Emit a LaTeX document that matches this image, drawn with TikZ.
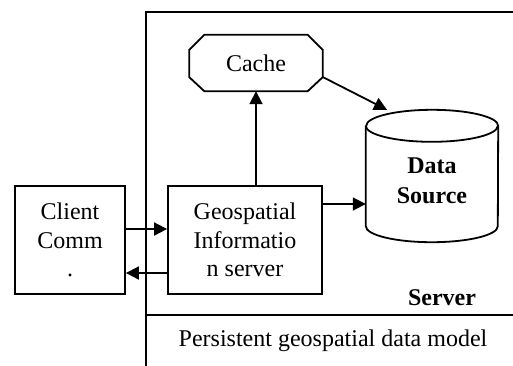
\documentclass[tikz,border=0pt]{standalone}
\usepackage{fontspec}
\setmainfont{Liberation Serif}
\usetikzlibrary{arrows.meta}

\tikzset{
  box/.style={draw, line width=1.8pt, minimum height=108pt, align=center, inner sep=0pt},
  arr/.style={line width=1.8pt, -{Triangle[length=13pt,width=13pt]}},
}

\begin{document}
\begin{tikzpicture}[x=1pt,y=-1pt,font=\fontsize{24}{28.5}\selectfont]
                \useasboundingbox (0,0) rectangle (513,365);
                \draw[line width=1.8pt] (514,12)--(146,12)--(146,366);
                \draw[line width=1.8pt] (146,315)--(514,315);
                \node (client) [box, minimum width=110pt] at (70,240) {Client\\Comm\\.};
                \node (geo) [box, minimum width=154pt] at (245,240) {Geospatial\\Informatio\\n server};
                \node (cache) [minimum width=133pt, minimum height=56pt, inner sep=0pt] at (256,63) {Cache};
                \draw[line width=1.8pt] ([xshift=15pt]cache.north west)--([xshift=-15pt]cache.north east)
                    --([yshift=-15pt]cache.north east)--([yshift=14pt]cache.south east)
                    --([xshift=-15pt]cache.south east)--([xshift=15pt]cache.south west)
                    --([yshift=14pt]cache.south west)--([yshift=-15pt]cache.north west)--cycle;
                \node (data) [minimum width=132pt, minimum height=132pt, inner sep=0pt, align=center,
                    font=\fontsize{24}{30}\selectfont\bfseries] at (432,176) {\\[-4pt]Data\\Source};
                \draw[line width=1.8pt] ([yshift=-16pt]data.north west)--([yshift=16pt]data.south west)
                    arc[start angle=180, end angle=360, x radius=66pt, y radius=16pt]
                    --([yshift=-16pt]data.north east)
                    arc[start angle=0, end angle=180, x radius=66pt, y radius=16pt];
                \draw[line width=1.8pt] ([yshift=-16pt]data.north west)
                    arc[start angle=180, end angle=360, x radius=66pt, y radius=16pt];
                \node (server) [font=\fontsize{24}{28.5}\selectfont\bfseries] at (442,298) {Server};
                \node (model) at (333,341) {Persistent geospatial data model};
                \draw[arr] (cache.south |- geo.north)--(cache.south);
                \draw[arr] ([yshift=-14pt]cache.east)--([xshift=-45pt]data.north);
                \draw[arr] ([yshift=36pt]geo.east)--([yshift=-28pt]data.west);
                \draw[arr] ([yshift=11pt]client.east)--([yshift=11pt]geo.west);
                \draw[arr] ([yshift=-33pt]geo.west)--([yshift=-33pt]client.east);
\end{tikzpicture}
\end{document}
